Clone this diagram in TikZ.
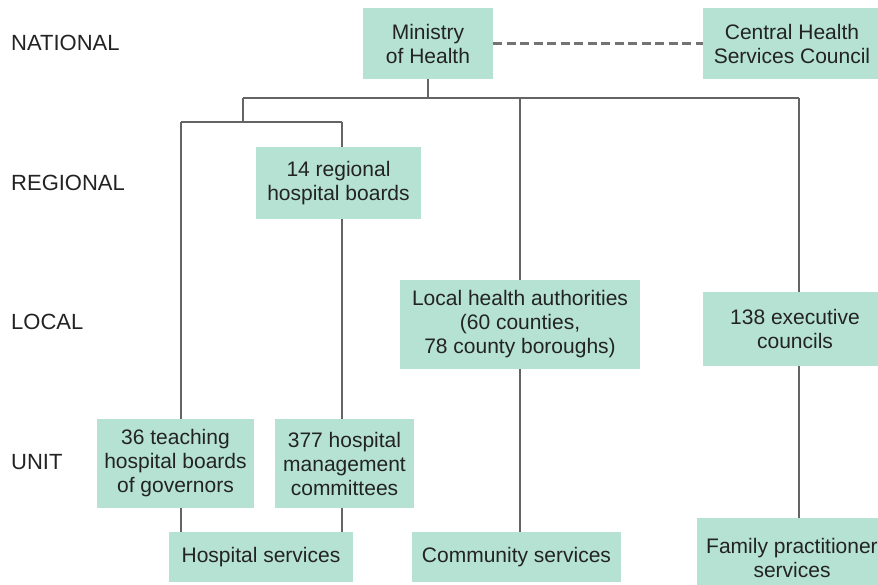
\documentclass[tikz,border=0pt]{standalone}
\usepackage{fontspec}
\setmainfont{Liberation Sans}
\definecolor{boxfill}{RGB}{181,226,211}
\definecolor{linec}{RGB}{100,100,100}
\definecolor{dashc}{RGB}{115,115,115}
\definecolor{txt}{RGB}{35,35,35}
\begin{document}
\begin{tikzpicture}[x=1pt,y=-1pt,
  box/.style={fill=boxfill, inner sep=0pt, align=center, font=\fontsize{21}{24}\selectfont, text=txt},
  conn/.style={draw=linec, line width=1.1pt},
  dashline/.style={draw=dashc, line width=2.2pt, dash pattern=on 9pt off 4.5pt},
  lvl/.style={anchor=west, inner sep=0pt, font=\fontsize{22}{24}\selectfont, text=txt}]
\useasboundingbox (0,0) rectangle (878,585);
\fill[white] (0,0) rectangle (878,585);
% level labels
\node[lvl] (lnat) at (11,43) {NATIONAL};
\node[lvl] (lreg) at (11,183) {REGIONAL};
\node[lvl] (lloc) at (11,322) {LOCAL};
\node[lvl] (lunit) at (11,462) {UNIT};
% boxes
\node[box, minimum width=130pt, minimum height=71pt] (min) at (428,43.5) {Ministry\\of Health};
\node[box, minimum width=178pt, minimum height=71pt] (central) at (792,43.5) {Central Health\\Services Council};
\node[box, minimum width=165pt, minimum height=72pt] (reg) at (338.5,183) {14 regional\\hospital boards};
\node[box, minimum width=240pt, minimum height=89pt] (local) at (520,324.5) {Local health authorities\\(60 counties,\\78 county boroughs)};
\node[box, minimum width=184pt, minimum height=74pt] (exec) at (795,329) {138 executive\\councils};
\node[box, minimum width=157pt, minimum height=89pt] (teach) at (175.5,463.5) {36 teaching\\hospital boards\\of governors};
\node[box, minimum width=139pt, minimum height=89pt] (hmc) at (344.5,463.5) {377 hospital\\management\\committees};
\node[box, minimum width=184pt, minimum height=50pt] (hosp) at (261,557) {Hospital services};
\node[box, minimum width=209pt, minimum height=50pt] (comm) at (516.5,557) {Community services};
\node[box, minimum width=190pt, minimum height=80pt] (fam) at (792,558) {Family practitioner\\services};
% connectors
\coordinate (busL) at (243,98);
\coordinate (busR) at (799,98);
\coordinate (b2L) at (181,122);
\coordinate (b2R) at (342,122);
\draw[dashline] (min.east) -- (central.west);
\draw[conn] (min.south) -- (min.south |- busL);
\draw[conn] (busL) -- (busR);
\draw[conn] (busL) -- (busL |- b2L);
\draw[conn] (b2L) -- (b2R);
\draw[conn] (b2L) -- (b2L |- teach.north);
\draw[conn] (b2R) -- (b2R |- reg.north);
\draw[conn] (b2R |- reg.south) -- (b2R |- hmc.north);
\draw[conn] (local.north) -- (local.north |- busR);
\draw[conn] (busR) -- (busR |- exec.north);
\draw[conn] (local.south) -- (local.south |- comm.north);
\draw[conn] (busR |- exec.south) -- (busR |- fam.north);
\draw[conn] (b2L |- teach.south) -- (b2L |- hosp.north);
\draw[conn] (b2R |- hmc.south) -- (b2R |- hosp.north);
\end{tikzpicture}
\end{document}
